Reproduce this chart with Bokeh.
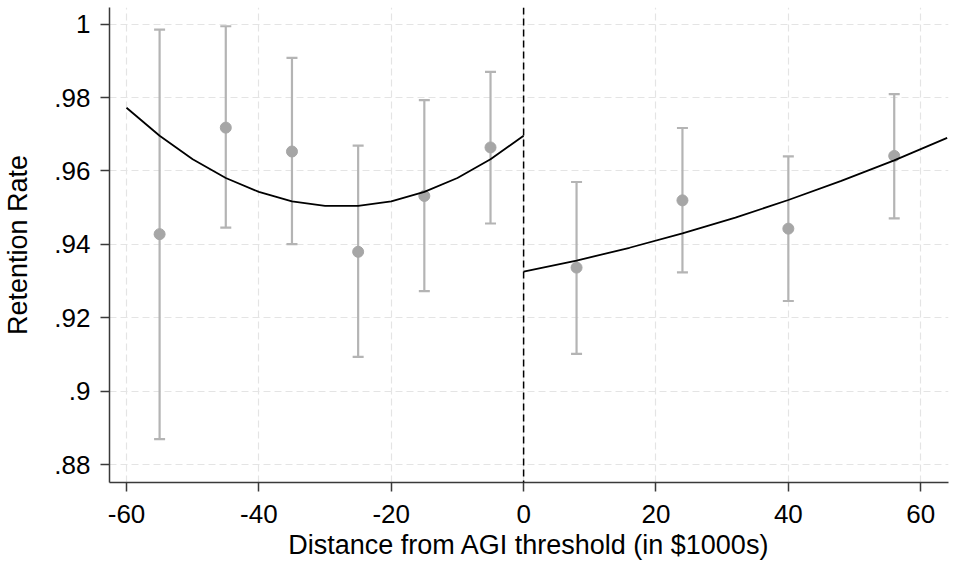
from bokeh.plotting import figure
from bokeh.models import ColumnDataSource, Whisker, TeeHead, FixedTicker, Span, Range1d
from bokeh.embed import file_html
from bokeh.resources import INLINE

# ---- data ----
bin_x = [-55, -45, -35, -25, -15, -5, 8, 24, 40, 56]
rate = [0.9428, 0.9718, 0.9653, 0.9380, 0.9532, 0.9664, 0.9337, 0.9520, 0.9443, 0.9641]
ci_low = [0.8870, 0.9446, 0.9401, 0.9094, 0.9273, 0.9457, 0.9102, 0.9324, 0.9246, 0.9471]
ci_high = [0.9985, 0.9994, 0.9908, 0.9669, 0.9793, 0.9870, 0.9570, 0.9717, 0.9640, 0.9809]

fit_left_x = [-60, -55, -50, -45, -40, -35, -30, -25, -20, -15, -10, -5, 0]
fit_left_y = [0.9772, 0.9696, 0.9632, 0.9581, 0.9543, 0.9517, 0.9505,
              0.9505, 0.9517, 0.9543, 0.9581, 0.9632, 0.9696]
fit_right_x = [0, 8, 16, 24, 32, 40, 48, 56, 64]
fit_right_y = [0.9326, 0.9356, 0.9391, 0.9430, 0.9473, 0.9521, 0.9573, 0.9629, 0.9690]

x_ticks = [-60, -40, -20, 0, 20, 40, 60]
x_tick_labels = ["-60", "-40", "-20", "0", "20", "40", "60"]
y_ticks = [0.88, 0.90, 0.92, 0.94, 0.96, 0.98, 1.00]
y_tick_labels = [".88", ".9", ".92", ".94", ".96", ".98", "1"]

FONT = "Liberation Sans"

p = figure(width=954, height=567, output_backend="svg", toolbar_location=None,
           x_range=Range1d(-62.57, 64.2), y_range=Range1d(0.8752, 1.0045),
           min_border_left=109, min_border_right=6, min_border_top=7, min_border_bottom=85)
p.outline_line_color = None
p.background_fill_color = "white"

# grid
for g in (p.xgrid, p.ygrid):
    g.grid_line_color = "#e4e4e4"
    g.grid_line_dash = "7 4"
    g.grid_line_width = 1.2
p.xaxis.ticker = FixedTicker(ticks=x_ticks)
p.yaxis.ticker = FixedTicker(ticks=y_ticks)
p.xaxis.major_label_overrides = dict(zip(x_ticks, x_tick_labels))
p.yaxis.major_label_overrides = dict(zip(y_ticks, y_tick_labels))

for ax in (p.xaxis, p.yaxis):
    ax.axis_line_color = "#3a3a3a"
    ax.axis_line_width = 1.5
    ax.major_tick_line_color = "#3a3a3a"
    ax.major_tick_line_width = 1.5
    ax.major_tick_out = 9
    ax.major_tick_in = 0
    ax.minor_tick_line_color = None
    ax.major_label_text_font = FONT
    ax.major_label_text_font_size = "26px"
    ax.major_label_text_color = "black"
    ax.axis_label_text_font = FONT
    ax.axis_label_text_font_size = "27px"
    ax.axis_label_text_font_style = "normal"
    ax.axis_label_text_color = "black"

p.xaxis.axis_label = "Distance from AGI threshold (in $1000s)"
p.yaxis.axis_label = "Retention Rate"
p.xaxis.major_label_standoff = 13
p.yaxis.major_label_standoff = 10
p.xaxis.axis_label_standoff = 4
p.yaxis.axis_label_standoff = 18

# cutoff line
p.add_layout(Span(location=0, dimension="height", line_color="black",
                  line_dash="7 4", line_width=1.5))

# error bars
src = ColumnDataSource(dict(x=bin_x, y=rate, lo=ci_low, hi=ci_high))
w = Whisker(base="x", lower="lo", upper="hi", source=src,
            line_color="#b4b4b4", line_width=2.2,
            upper_head=TeeHead(size=11, line_color="#b4b4b4", line_width=2.2),
            lower_head=TeeHead(size=11, line_color="#b4b4b4", line_width=2.2))
p.add_layout(w)
p.scatter("x", "y", source=src, size=11, fill_color="#a6a6a6", line_color="#a6a6a6")

# fitted lines
p.line(fit_left_x, fit_left_y, line_color="black", line_width=1.8)
p.line(fit_right_x, fit_right_y, line_color="black", line_width=1.8)

open("out.html", "w").write(file_html(p, INLINE))
